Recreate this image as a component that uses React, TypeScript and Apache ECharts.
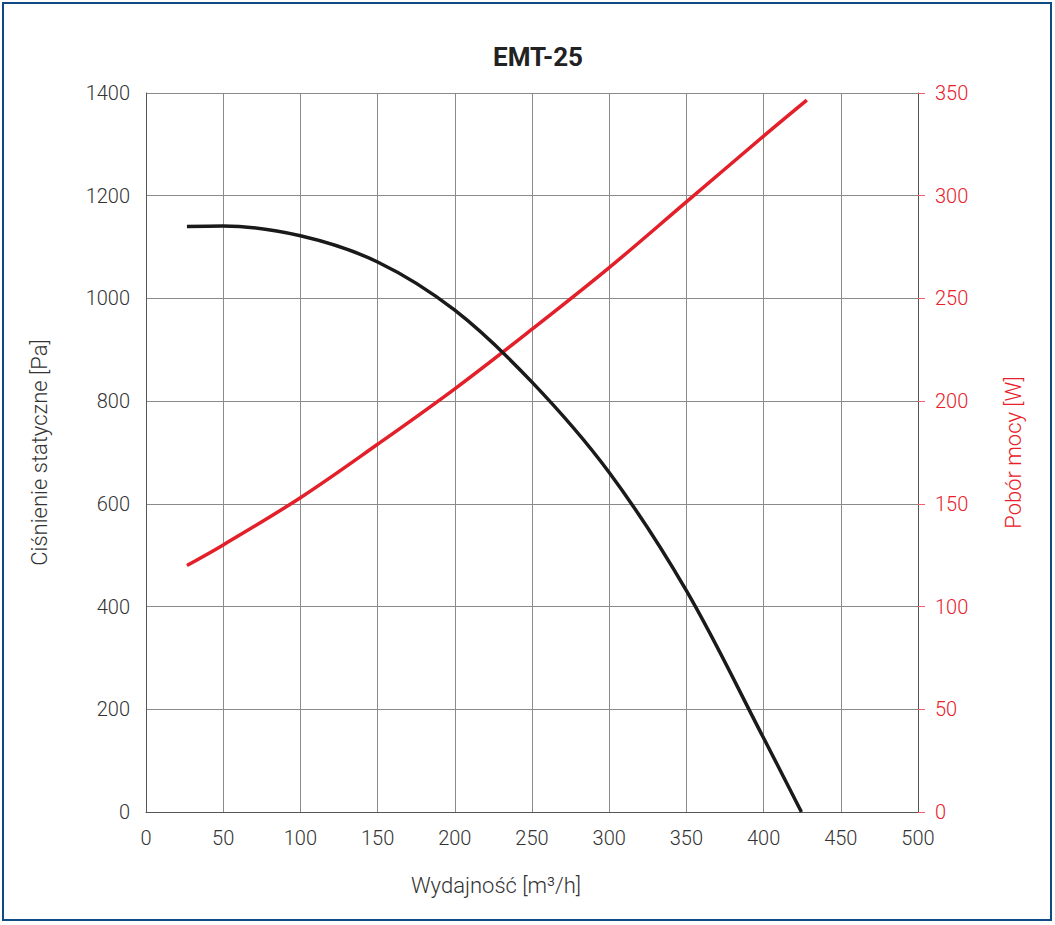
import React, { useEffect, useRef } from 'react';
import * as echarts from 'echarts';

const FONT = "Roboto, 'Noto Sans', sans-serif";

// wydajność [m3/h] vs ciśnienie statyczne [Pa]
const pressureFlow = [26.5, 50, 100, 150, 200, 250, 300, 350, 400, 424.5];
const pressureValues = [1140, 1141, 1122, 1071, 977, 837, 661, 431, 144, 0];

// wydajność [m3/h] vs pobór mocy [W]
const powerFlow = [26.5, 50, 100, 150, 200, 250, 300, 350, 400, 428];
const powerValues = [120, 130, 153, 179, 206, 235, 265, 297, 329, 346.5];

const xTicks = { min: 0, max: 500, interval: 50 };
const leftTicks = { min: 0, max: 1400, interval: 200 };
const rightTicks = { min: 0, max: 350, interval: 50 };

const toPairs = (xs: number[], ys: number[]) => xs.map((x, i) => [x, ys[i]]);
const plain = (v: number) => String(v);

export default function App() {
  const chartRef = useRef<HTMLDivElement>(null);

  useEffect(() => {
    document.body.style.margin = '0';
    if (!chartRef.current) return;

    const chart = echarts.init(chartRef.current, null, { renderer: 'svg' });

    const option = {
      animation: false,
      backgroundColor: '#ffffff',
      textStyle: { fontFamily: FONT },
      title: {
        text: 'EMT-25',
        left: 533,
        top: 39,
        textAlign: 'center',
        textStyle: { fontSize: 26, fontWeight: 'bold', color: '#222', fontFamily: FONT }
      },
      grid: { left: 146, right: 137, top: 93, bottom: 113 },
      xAxis: {
        type: 'value',
        ...xTicks,
        name: 'Wydajność [m³/h]',
        nameLocation: 'middle',
        nameGap: 62,
        nameTextStyle: {
          fontSize: 22,
          color: '#333',
          fontWeight: 300,
          fontFamily: FONT,
          padding: [0, 72, 0, 0]
        },
        axisLine: { show: true, lineStyle: { color: '#555', width: 1 } },
        axisTick: { show: false },
        axisLabel: { fontSize: 20, color: '#333', margin: 16, fontWeight: 300, fontFamily: FONT, formatter: plain },
        splitLine: { show: true, lineStyle: { color: '#8a8a8a', width: 1 } }
      },
      yAxis: [
        {
          type: 'value',
          ...leftTicks,
          position: 'left',
          name: 'Ciśnienie statyczne [Pa]',
          nameLocation: 'middle',
          nameGap: 96,
          nameTextStyle: { fontSize: 22, color: '#333', fontWeight: 300, fontFamily: FONT },
          axisLine: { show: true, lineStyle: { color: '#555', width: 1 } },
          axisTick: { show: false },
          axisLabel: { fontSize: 20, color: '#333', margin: 16, fontWeight: 300, fontFamily: FONT, formatter: plain },
          splitLine: { show: true, lineStyle: { color: '#8a8a8a', width: 1 } }
        },
        {
          type: 'value',
          ...rightTicks,
          position: 'right',
          name: 'Pobór mocy [W]',
          nameLocation: 'middle',
          nameGap: 84,
          nameTextStyle: { fontSize: 22, color: '#e8202a', fontWeight: 300, fontFamily: FONT },
          axisLine: { show: true, lineStyle: { color: '#555', width: 1 } },
          axisTick: { show: true, length: 7, lineStyle: { color: '#f0606a', width: 1 } },
          axisLabel: { fontSize: 20, color: '#e8202a', margin: 17, fontWeight: 300, fontFamily: FONT, formatter: plain },
          splitLine: { show: false }
        }
      ],
      series: [
        {
          type: 'line',
          yAxisIndex: 0,
          data: toPairs(pressureFlow, pressureValues),
          smooth: 0.35,
          showSymbol: false,
          lineStyle: { color: '#1a1a1a', width: 3.5 },
          z: 3
        },
        {
          type: 'line',
          yAxisIndex: 1,
          data: toPairs(powerFlow, powerValues),
          smooth: 0.35,
          showSymbol: false,
          lineStyle: { color: '#e3202a', width: 3.5 },
          z: 2
        }
      ]
    };

    chart.setOption(option);

    return () => {
      chart.dispose();
    };
  }, []);

  return (
    <div style={{ position: 'relative', width: 1055, height: 925, background: '#fff' }}>
      <div ref={chartRef} style={{ position: 'absolute', left: 0, top: 0, width: 1055, height: 925 }} />
      <div
        style={{
          position: 'absolute',
          left: 2,
          top: 2,
          width: 1050,
          height: 919,
          boxSizing: 'border-box',
          border: '2.5px solid #0d4a86',
          pointerEvents: 'none'
        }}
      />
    </div>
  );
}
